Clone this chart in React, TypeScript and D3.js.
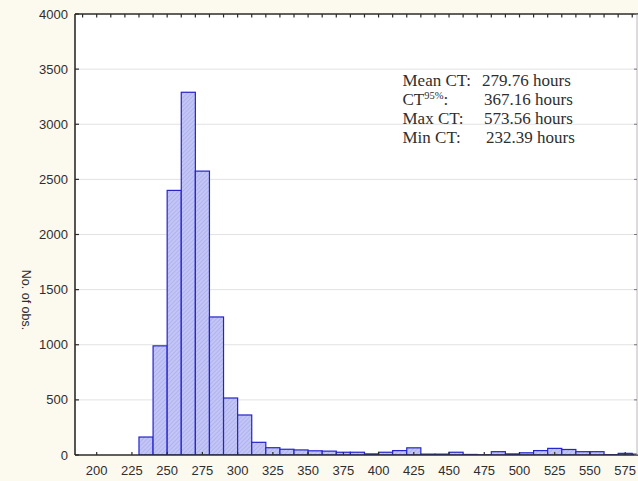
import React from "react";
import * as d3 from "d3";

const binStarts = [230,240,250,260,270,280,290,300,310,320,330,340,350,360,370,380,390,400,410,420,430,440,450,460,470,480,490,500,510,520,530,540,550,560,570,580];
const counts = [163,990,2400,3290,2575,1252,517,363,115,66,52,46,38,35,25,25,10,25,40,65,8,8,25,5,2,30,10,20,40,60,50,30,30,3,15,8];
const binWidth = 10;
const xTicks = [200,225,250,275,300,325,350,375,400,425,450,475,500,525,550,575];
const yTicks = [0,500,1000,1500,2000,2500,3000,3500,4000];
const statLabels = ["Mean CT:", "CT", "Max CT:", "Min CT:"];
const statValues = ["279.76 hours", "367.16 hours", "573.56 hours", "232.39 hours"];

const W = 638, H = 481;
const plotL = 75, plotR = 637, plotT = 14, plotB = 455;

export default function App() {
  const x = d3.scaleLinear().domain([200, 575]).range([96.7, 625.2]);
  const y = d3.scaleLinear().domain([0, 4000]).range([plotB, plotT]);
  const xMin = x.invert(plotL), xMax = x.invert(plotR);
  const topTicks = d3.range(Math.ceil(xMin / 10) * 10, xMax, 10);
  const gridVals = yTicks.filter(v => v > 0 && v < 4000);
  const axisColor = "#2b2b2b";
  const textColor = "#2e2e2e";
  const valX = [482, 484, 484, 486];
  return (
    <svg width={W} height={H} style={{ position: "fixed", left: 0, top: 0 }} fontFamily="Arial, 'Liberation Sans', sans-serif">
      <defs>
        <pattern id="hatch" width="3" height="3" patternUnits="userSpaceOnUse" patternTransform="rotate(45)">
          <rect width="3" height="3" fill="#c3c6f5" />
          <line x1="0" y1="0" x2="0" y2="3" stroke="#a3a7ec" strokeWidth="1.2" />
        </pattern>
        <clipPath id="plotclip">
          <rect x={plotL} y={plotT} width={plotR - plotL} height={plotB - plotT} />
        </clipPath>
      </defs>
      <rect x={0} y={0} width={W} height={H} fill="#fcf9ef" />
      <rect x={plotL} y={plotT} width={plotR - plotL} height={plotB - plotT} fill="#ffffff" />
      {gridVals.map(v => (
        <line key={v} x1={plotL} x2={plotR} y1={y(v)} y2={y(v)} stroke="#e2e2e2" strokeWidth={1} />
      ))}
      <g clipPath="url(#plotclip)">
        {binStarts.map((b, i) => (
          <rect key={b} x={x(b)} width={x(b + binWidth) - x(b)} y={y(counts[i])} height={y(0) - y(counts[i])}
            fill="url(#hatch)" stroke="#2424cc" strokeWidth={1.2} />
        ))}
      </g>
      {/* axes */}
      <line x1={plotL} x2={plotL} y1={plotT} y2={plotB} stroke={axisColor} strokeWidth={1.6} />
      <line x1={plotL} x2={plotR + 1} y1={plotB} y2={plotB} stroke={axisColor} strokeWidth={1.6} />
      <line x1={plotL} x2={W} y1={plotT} y2={plotT} stroke={axisColor} strokeWidth={1.6} />
      <line x1={plotR} x2={plotR} y1={plotT} y2={plotB} stroke="#bbb" strokeWidth={1} />
      {topTicks.map(t => (
        <line key={t} x1={x(t)} x2={x(t)} y1={plotT} y2={plotT + 3.5} stroke={axisColor} strokeWidth={1.2} />
      ))}
      {xTicks.map(t => (
        <g key={t}>
          <line x1={x(t)} x2={x(t)} y1={plotB} y2={plotB - 3} stroke={axisColor} strokeWidth={1.2} />
          <text x={x(t)} y={475} textAnchor="middle" fontSize={13} fill={textColor}>{t}</text>
        </g>
      ))}
      {yTicks.map(v => (
        <g key={v}>
          <line x1={plotL} x2={plotL + 4} y1={y(v)} y2={y(v)} stroke={axisColor} strokeWidth={1.2} />
          <line x1={plotR - 3} x2={plotR} y1={y(v)} y2={y(v)} stroke="#777" strokeWidth={1} />
          <text x={68} y={y(v) + 4.5} textAnchor="end" fontSize={13} fill={textColor}>{v}</text>
        </g>
      ))}
      <text transform="translate(22,300) rotate(90)" textAnchor="middle" fontSize={12.5} fill={textColor}>No. of obs.</text>
      <g fontFamily="'Liberation Serif', 'Times New Roman', serif" fontSize={17} fill={textColor}>
        {statLabels.map((l, i) => (
          <text key={l} x={402.5} y={85.5 + i * 19.2}>
            {l}
            {i === 1 ? <tspan dy={-5.5} fontSize={10.5}>95%</tspan> : null}
            {i === 1 ? <tspan dy={5.5}>:</tspan> : null}
          </text>
        ))}
        {statValues.map((v, i) => (
          <text key={v} x={valX[i]} y={85.5 + i * 19.2}>{v}</text>
        ))}
      </g>
    </svg>
  );
}
